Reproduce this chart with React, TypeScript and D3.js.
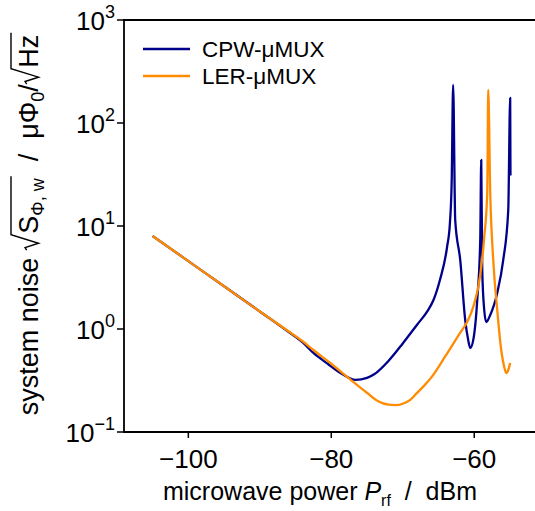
import React, { useEffect, useRef } from "react";
import * as d3 from "d3";

const W = 535;
const H = 511;

const cpwX = [-105, -100, -95, -90, -86, -84, -82.5, -80.5, -78.7, -76.6, -75, -74, -72, -70, -68, -66.5, -65.7, -64.8, -63.8, -63.4, -63.15, -62.95, -62.66, -61.96, -61.26, -60.84, -60.56, -60.14, -59.58, -59.16, -59.02, -58.88, -58.6, -58.32, -57.76, -56.78, -55.94, -55.24, -54.97, -54.93];
const cpwY = [8.0, 4.56, 2.6, 1.48, 0.94, 0.74, 0.585, 0.46, 0.374, 0.32, 0.335, 0.363, 0.49, 0.724, 1.1, 1.51, 1.91, 2.99, 6.25, 10.7, 28, 234, 11.4, 4.68, 1.22, 0.78, 0.654, 0.78, 1.91, 7.3, 43.8, 3.74, 1.53, 1.17, 1.37, 2.24, 4.68, 14.3, 175, 31];

const lerX = [-105, -100, -95, -90, -86, -84, -82.5, -80, -77.76, -74.97, -73.5, -72, -71, -70, -69, -68, -67, -66, -64, -62, -61, -60.14, -59.16, -58.6, -58.18, -58.04, -57.76, -57.34, -56.78, -56.22, -55.8, -55.52, -55.24, -54.97];
const lerY = [8.0, 4.56, 2.6, 1.48, 0.95, 0.76, 0.625, 0.46, 0.342, 0.239, 0.2, 0.184, 0.182, 0.188, 0.204, 0.24, 0.282, 0.339, 0.55, 0.912, 1.17, 1.64, 3.34, 7.8, 20.9, 209, 20.9, 4.68, 1.53, 0.625, 0.428, 0.374, 0.4, 0.468];

const seriesNames = ["CPW-\u03bcMUX", "LER-\u03bcMUX"];
const seriesColors = ["#00008b", "#ff8c00"];
const xTicks = [-100, -80, -60];
const yTickExps = [-1, 0, 1, 2, 3];

const FONT = "'Liberation Sans', Arial, sans-serif";

export default function App() {
  const ref = useRef<SVGSVGElement | null>(null);

  useEffect(() => {
    const svg = d3.select(ref.current);
    svg.selectAll("*").remove();
    const left = 124, top = 20, bottom = 432, right = 560;
    const x = d3.scaleLinear().domain([-109, -48]).range([left, right]);
    const y = d3.scaleLog().domain([0.1, 1000]).range([bottom, top]);

    const fs = 26;
    const g = svg.append("g");

    // spines
    g.append("line").attr("x1", left).attr("x2", left).attr("y1", top).attr("y2", bottom).attr("stroke", "#000").attr("stroke-width", 1.8);
    g.append("line").attr("x1", left - 0.9).attr("x2", right).attr("y1", top).attr("y2", top).attr("stroke", "#000").attr("stroke-width", 1.8);
    g.append("line").attr("x1", left - 0.9).attr("x2", right).attr("y1", bottom).attr("y2", bottom).attr("stroke", "#000").attr("stroke-width", 1.8);

    // x ticks
    xTicks.forEach((t) => {
      g.append("line").attr("x1", x(t)).attr("x2", x(t)).attr("y1", bottom).attr("y2", bottom + 6).attr("stroke", "#000").attr("stroke-width", 1.5);
      g.append("text").attr("x", x(t)).attr("y", bottom + 36).attr("text-anchor", "middle")
        .attr("font-family", FONT).attr("font-size", fs).text("\u2212" + Math.abs(t));
    });

    // y ticks
    yTickExps.forEach((e) => {
      const v = Math.pow(10, e);
      g.append("line").attr("x1", left - 7).attr("x2", left).attr("y1", y(v)).attr("y2", y(v)).attr("stroke", "#000").attr("stroke-width", 1.5);
      const t = g.append("text").attr("x", left - 9).attr("y", y(v) + 10).attr("text-anchor", "end")
        .attr("font-family", FONT).attr("font-size", fs);
      t.append("tspan").text("10");
      t.append("tspan").attr("dy", -12).attr("font-size", 18).text(e < 0 ? "\u2212" + Math.abs(e) : String(e));
    });

    // lines
    const line = d3.line<[number, number]>().x((d) => x(d[0])).y((d) => y(d[1])).curve(d3.curveMonotoneX);
    const cpw = cpwX.map((v, i) => [v, cpwY[i]] as [number, number]);
    const ler = lerX.map((v, i) => [v, lerY[i]] as [number, number]);
    g.append("path").attr("d", line(cpw)).attr("fill", "none").attr("stroke", seriesColors[0]).attr("stroke-width", 2.3).attr("stroke-linejoin", "round");
    g.append("path").attr("d", line(ler)).attr("fill", "none").attr("stroke", seriesColors[1]).attr("stroke-width", 2.3).attr("stroke-linejoin", "round");

    // legend
    seriesNames.forEach((n, i) => {
      const ly = 49 + i * 27;
      g.append("line").attr("x1", 143).attr("x2", 190).attr("y1", ly).attr("y2", ly).attr("stroke", seriesColors[i]).attr("stroke-width", 2.3);
      g.append("text").attr("x", 202).attr("y", ly + 8).attr("font-family", FONT).attr("font-size", 22.5).text(n);
    });

    // x axis title
    const xt = g.append("text").attr("x", 320).attr("y", 500).attr("text-anchor", "middle").attr("font-family", FONT).attr("font-size", 25);
    xt.append("tspan").text("microwave power ");
    xt.append("tspan").attr("font-style", "italic").text("P");
    xt.append("tspan").attr("dy", 6).attr("font-size", 16).text("rf");
    xt.append("tspan").attr("dy", -6).text("\u00a0 /\u00a0 dBm");

    // y axis title, built piecewise in rotated coords
    const yfs = 27;
    const yg = g.append("g");
    let cx = 0;
    const put = (txt: string, size: number, dy: number) => {
      const el = yg.append("text").attr("x", cx).attr("y", dy).attr("font-family", FONT).attr("font-size", size).text(txt);
      const w = (el.node() as SVGTextElement).getComputedTextLength();
      cx += w;
      return w;
    };
    const radical = (bodyFn: () => void) => {
      const x0 = cx;
      const rw = yfs * 0.5;
      cx += rw + 3;
      const bodyStart = cx;
      bodyFn();
      const x1 = cx + 2;
      yg.append("path")
        .attr("d", `M${x0},${-yfs * 0.42} L${x0 + yfs * 0.1},${-yfs * 0.48} L${x0 + yfs * 0.26},${yfs * 0.02} L${bodyStart - 1},${-yfs * 1.0} L${x1},${-yfs * 1.0}`)
        .attr("fill", "none").attr("stroke", "#000").attr("stroke-width", 1.4);
      cx = x1;
    };
    put("system noise\u00a0", yfs, 0);
    radical(() => {
      put("S", yfs, 0);
      put("\u03a6, w", 18, 6);
    });
    put("\u00a0 /\u00a0 \u03bc\u03a6", yfs, 0);
    put("0", 18, 6);
    put("/", yfs, 0);
    radical(() => {
      put("Hz", yfs, 0);
    });
    const total = cx;
    const centerY = 224;
    yg.attr("transform", `translate(38,${centerY + total / 2}) rotate(-90)`);
  }, []);

  return (
    <svg ref={ref} width={W} height={H} style={{ position: "absolute", left: 0, top: 0, background: "#fff" }} />
  );
}
